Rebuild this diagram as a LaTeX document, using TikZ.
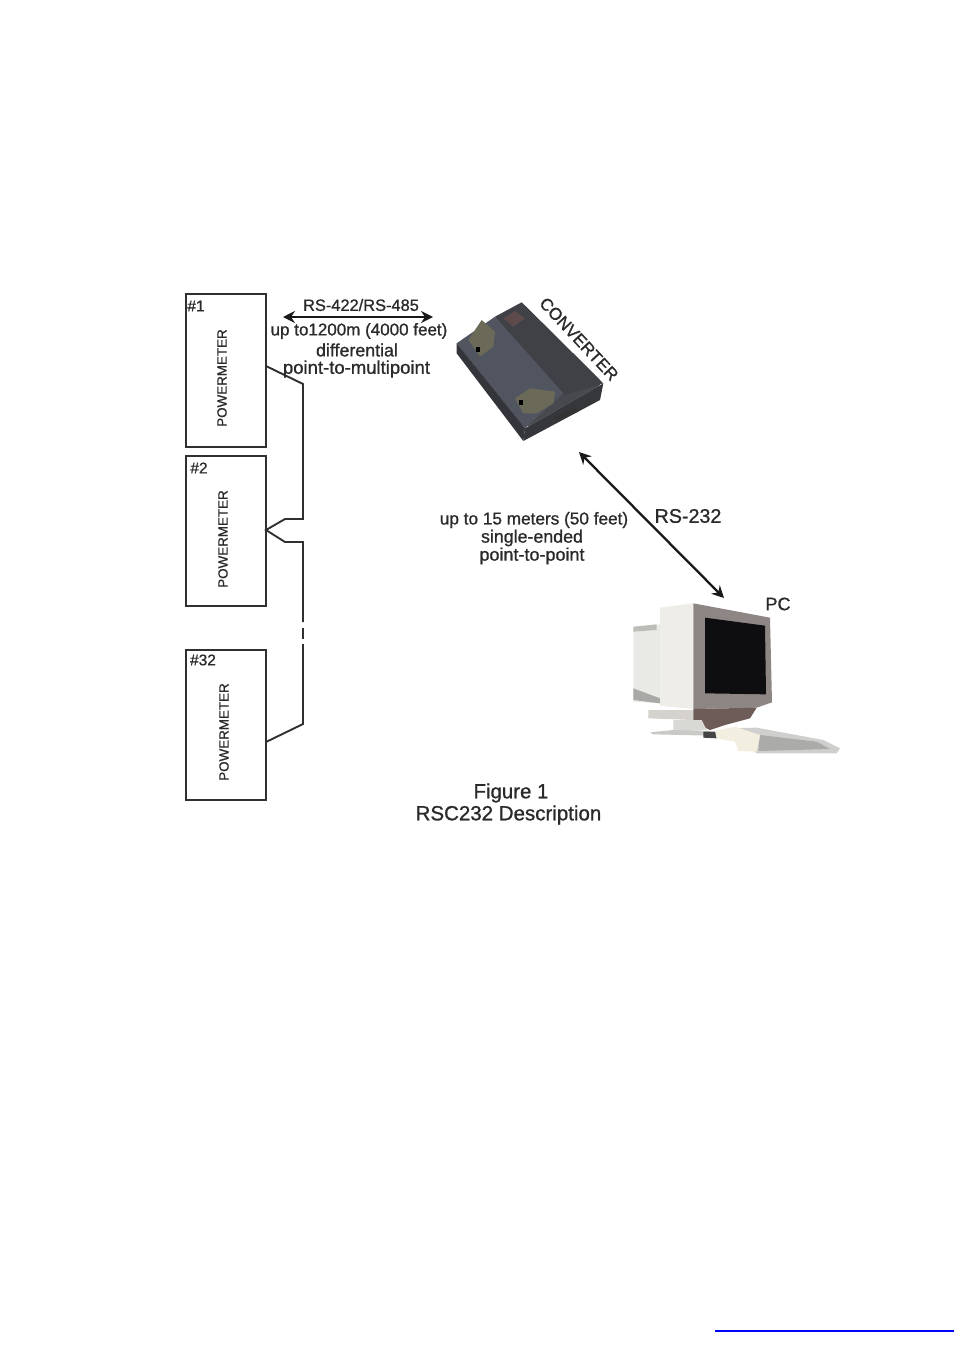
\documentclass[tikz,border=0pt]{standalone}
\usepackage{fontspec}
\setmainfont[FakeBold=0.9]{Liberation Sans}
\usetikzlibrary{arrows.meta}
\definecolor{ink}{HTML}{2A2A2A}
\definecolor{wire}{HTML}{303030}
\newcommand{\fs}[1]{\fontsize{#1}{#1}\selectfont}
\tikzset{
  x=1pt,y=-1pt,
  hx/.code={\definecolor{tmpc}{HTML}{#1}\pgfkeysalso{/tikz/fill=tmpc}},
  pmbox/.style={draw=wire,line width=2.4pt,fill=white,minimum width=80pt,inner sep=0pt,anchor=north west},
  pmlabel/.style={rotate=90,font=\fs{13.4},text=ink,inner sep=0pt},
  numlabel/.style={font=\fs{15.5},text=ink,inner sep=0pt},
  lab/.style={font=\fs{17.8},text=ink,inner sep=0pt,align=center},
  wireline/.style={draw=wire,line width=1.9pt,line join=miter},
  dbl/.style={draw=black!90,line width=2.3pt,{Stealth[length=12pt,width=12pt,inset=4pt]}-{Stealth[length=12pt,width=12pt,inset=4pt]}}
}
\begin{document}
\begin{tikzpicture}
\useasboundingbox (0,0) rectangle (954,1355);
\fill[white] (0,0) rectangle (954,1355);
% boxes
\node[pmbox,minimum height=153pt] (b1) at (185,293) {};
\node[pmbox,minimum height=150pt] (b2) at (185,455) {};
\node[pmbox,minimum height=150pt] (b3) at (185,649) {};
\node[pmlabel] (p1) at (222,378) {POWERMETER};
\node[pmlabel] (p2) at (223,539) {POWERMETER};
\node[pmlabel] (p3) at (224,732) {POWERMETER};
\node[numlabel] (n1) at (196,306) {\#1};
\node[numlabel] (n2) at (199,468) {\#2};
\node[numlabel] (n3) at (203,660) {\#32};
% wiring
\coordinate (w1) at (266,366);
\coordinate (w1b) at (303,384);
\coordinate (w2u) at (303,519);
\coordinate (w2ub) at (285,519);
\coordinate (w2) at (266,530);
\coordinate (w2db) at (285,542);
\coordinate (w2d) at (303,542);
\coordinate (g1) at (303,622);
\coordinate (g2) at (303,628);
\coordinate (g3) at (303,639);
\coordinate (g4) at (303,644);
\coordinate (w3b) at (303,724);
\coordinate (w3) at (266,742);
\draw[wireline] (w1)--(w1b)--(w2u)--(w2ub)--(w2)--(w2db)--(w2d)--(g1);
\draw[wireline] (g2)--(g3);
\draw[wireline] (g4)--(w3b)--(w3);
% texts
\node[lab,font=\fs{16.4}] (t1) at (361,305) {RS-422/RS-485};
\node[lab,font=\fs{17}] (t2) at (359,331) {up to1200m (4000 feet)};
\node[lab] (t3) at (357,350) {differential};
\node[lab,font=\fs{18.5}] (t4) at (356.5,369) {point-to-multipoint};
\coordinate (a1) at (283,317);
\coordinate (a2) at (433,317);
\draw[dbl] (a1)--(a2);
\node[lab,rotate=-47,font=\fs{17}] (conv) at (579,339) {CONVERTER};
\node[lab,font=\fs{17.2}] (t5) at (534,520) {up to 15 meters (50 feet)};
\node[lab] (t6) at (532,538) {single-ended};
\node[lab,font=\fs{18}] (t7) at (532,556) {point-to-point};
\node[lab,font=\fs{19.7}] (t8) at (688,516) {RS-232};
\node[lab,font=\fs{18}] (pc) at (778,604) {PC};
\coordinate (a3) at (579,452);
\coordinate (a4) at (724,598);
\draw[dbl] (a3)--(a4);
\node[lab,font=\fs{20.4}] (c1) at (511,793) {Figure 1};
\node[lab,font=\fs{20.5}] (c2) at (508.5,815) {RSC232 Description};
% converter
\begin{scope}[shift={(440,285)},scale=1/3]
\fill[hx=47494F,rounded corners=6pt] (50,175) -- (245,52) -- (490,295) -- (255,430) -- cycle;
\fill[hx=404146] (165,95) -- (245,52) -- (490,295) -- (370,330) -- cycle;
\fill[hx=50555F] (50,175) -- (165,95) -- (370,325) -- (255,430) -- cycle;
\fill[hx=33353A] (50,175) -- (255,430) -- (250,468) -- (50,205) -- cycle;
\fill[hx=36373B] (255,430) -- (490,295) -- (480,345) -- (250,468) -- cycle;
\fill[hx=5D4A4A] (190,100) -- (225,78) -- (255,100) -- (220,125) -- cycle;
\fill[hx=6B6A58] (85,165) -- (125,105) -- (165,140) -- (160,185) -- (120,215) -- cycle;
\fill[hx=6B6A58] (225,340) -- (270,310) -- (345,320) -- (340,355) -- (290,385) -- (250,385) -- cycle;
\fill[black] (108,185) rectangle (120,200);
\fill[black] (238,345) rectangle (250,360);
\fill[black!80] (340,395) -- (410,368) -- (415,380) -- (345,408) -- cycle;
\end{scope}
% monitor
\begin{scope}[shift={(610,585)},scale=1/3]
\fill[hx=E9E9E6] (70,130) -- (150,118) -- (150,355) -- (70,350) -- cycle;
\fill[hx=BDBDB8] (70,125) -- (140,118) -- (140,135) -- (70,140) -- cycle;
\fill[hx=A9A9A6] (70,310) -- (150,340) -- (150,355) -- (70,345) -- cycle;
\fill[hx=EFEDE8] (150,68) -- (250,55) -- (250,372) -- (150,362) -- cycle;
\fill[hx=8E8585] (250,55) -- (480,98) -- (486,352) -- (440,368) -- (250,372) -- cycle;
\fill[hx=0E0E10] (285,98) -- (465,122) -- (468,328) -- (285,325) -- cycle;
\fill[hx=D5D2CE] (115,375) -- (250,375) -- (250,405) -- (115,400) -- cycle;
\fill[hx=6E5C58] (250,372) -- (440,368) -- (420,400) -- (345,420) -- (300,435) -- (250,410) -- cycle;
\fill[hx=D8D8D4] (190,405) -- (275,405) -- (290,435) -- (190,440) -- cycle;
\fill[hx=C9C9C5] (120,442) -- (190,435) -- (300,438) -- (300,452) -- (130,448) -- cycle;
\fill[hx=444444] (280,440) -- (320,440) -- (320,460) -- (280,458) -- cycle;
\fill[hx=CFCFCD] (350,430) -- (440,428) -- (640,465) -- (690,490) -- (680,505) -- (440,505) -- cycle;
\fill[hx=ABABA9] (450,450) -- (620,470) -- (660,492) -- (445,498) -- cycle;
\fill[hx=F3EFE0] (315,438) -- (375,425) -- (450,450) -- (440,500) -- (385,498) -- (375,470) -- (320,460) -- cycle;
\end{scope}
% footer rule
\coordinate (r1) at (715,1331);
\coordinate (r2) at (954,1331);
\draw[draw=blue,line width=2pt] (r1)--(r2);
\end{tikzpicture}
\end{document}
